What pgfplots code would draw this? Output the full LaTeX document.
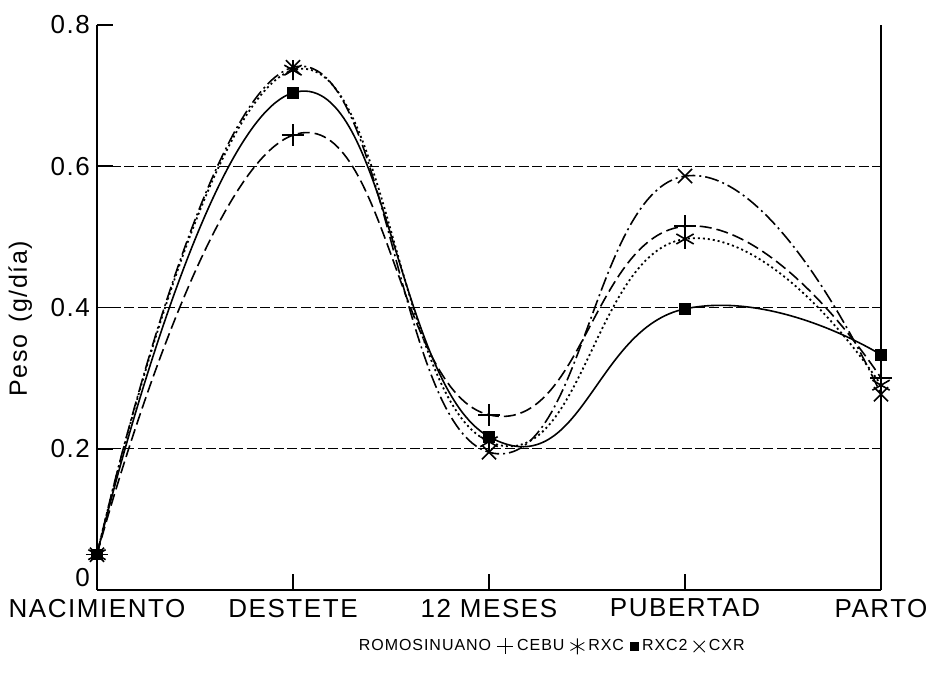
\documentclass[border=0pt]{standalone}
\usepackage{fontspec}
\setmainfont{Liberation Sans}[LetterSpace=6]
\usepackage{pgfplots}
\pgfplotsset{compat=1.18}
\begin{document}
\begin{tikzpicture}
\begin{axis}[
  scale only axis, width=392pt, height=282.5pt,
  xmin=0, xmax=4, ymin=0, ymax=0.8,
  axis lines*=left,
  axis line style={line width=0.9pt},
  /pgf/number format/assume math mode=true,
  xtick={0,1,2,3,4},
  xticklabels={NACIMIENTO,DESTETE,12 MESES,PUBERTAD,PARTO},
  ytick={0,0.2,0.4,0.6,0.8},
  yticklabels={\raisebox{13pt}{0},0.2,0.4,0.6,0.8},
  tick align=inside, major tick length=8pt,
  tick style={line width=0.8pt, black},
  xtick pos=bottom, ytick pos=left,
  xticklabel style={font=\fontsize{13}{15}\selectfont, anchor=north, yshift=-1pt},
  yticklabel style={font=\fontsize{13}{15}\selectfont},
  extra y ticks={0.2,0.4,0.6},
  extra y tick labels={},
  extra y tick style={grid=major, major tick length=0pt},
  grid style={line width=0.6pt, dash pattern=on 5pt off 1.8pt, black},
  ylabel={Peso\, (g/día)},
  every axis y label/.style={at={(rel axis cs:-0.098,0.48)}, rotate=90, anchor=center, font=\fontsize{12.5}{14}\selectfont},
  legend style={draw=none, fill=none, at={(rel axis cs:0.58,-0.1)}, anchor=center,
    font=\fontsize{8}{10}\selectfont, inner sep=0pt,
    /tikz/every even column/.append style={column sep=1pt}},
  legend columns=-1,
  legend cell align=left,
  clip=false,
]
\addlegendimage{empty legend}
\addlegendentry{ROMOSINUANO}
\addlegendimage{only marks, mark=+, mark size=4pt, black}
\addlegendentry{CEBU}
\addlegendimage{only marks, mark=asterisk, mark size=4pt, black}
\addlegendentry{RXC}
\addlegendimage{only marks, mark=square*, mark size=2pt, black}
\addlegendentry{RXC2}
\addlegendimage{only marks, mark=x, mark size=4pt, black}
\addlegendentry{CXR}

% CEBU
\addplot[forget plot, black, line width=0.8pt, smooth, tension=0.85, dash pattern=on 6pt off 2.5pt,
  mark=+, mark size=5.5pt, mark options={solid, line width=0.8pt}]
  coordinates {(0,0.05) (1,0.644) (2,0.248) (3,0.515) (4,0.300)};
% RXC
\addplot[forget plot, black, line width=0.9pt, smooth, tension=0.85, dash pattern=on 1pt off 1.5pt,
  mark=asterisk, mark size=5pt, mark options={solid, line width=0.8pt}]
  coordinates {(0,0.05) (1,0.736) (2,0.210) (3,0.497) (4,0.290)};
% RXC2
\addplot[forget plot, black, line width=0.8pt, smooth, tension=0.85, solid,
  mark=square*, mark size=2.5pt, mark options={solid}]
  coordinates {(0,0.05) (1,0.704) (2,0.217) (3,0.398) (4,0.333)};
% CXR
\addplot[forget plot, black, line width=0.8pt, smooth, tension=0.85, dash pattern=on 7pt off 2pt on 1pt off 2pt,
  mark=x, mark size=5pt, mark options={solid, line width=0.8pt}]
  coordinates {(0,0.05) (1,0.740) (2,0.195) (3,0.586) (4,0.277)};

\draw[line width=0.9pt] (rel axis cs:1,0) -- (rel axis cs:1,1);
\coordinate (bbsw) at (rel axis cs:-0.1237,-0.1593);
\coordinate (bbne) at (rel axis cs:1.0612,1.0442);
\end{axis}
\pgfresetboundingbox
\path[use as bounding box] (bbsw) rectangle (bbne);
\end{tikzpicture}
\end{document}
